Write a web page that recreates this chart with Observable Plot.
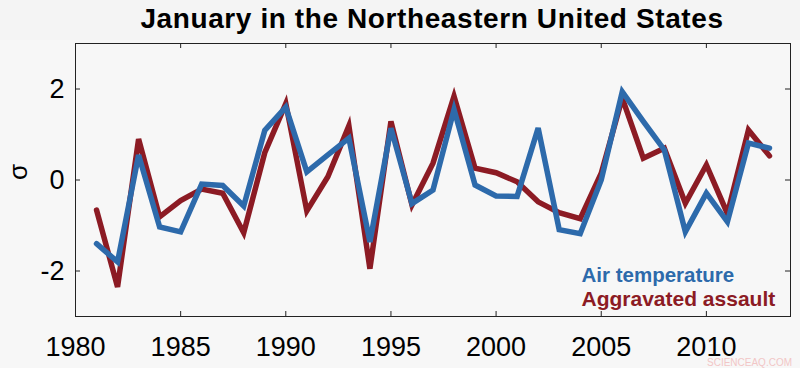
<!DOCTYPE html>
<html>
<head>
<meta charset="utf-8">
<script src="https://cdn.jsdelivr.net/npm/d3@7"></script>
<script src="https://cdn.jsdelivr.net/npm/@observablehq/plot@0.6"></script>
<style>
  html, body { margin: 0; padding: 0; background: #f4f4f4; }
  #wrap { position: relative; width: 800px; height: 368px; overflow: hidden; }
  #title { height: 40px; line-height: 38px; text-align: center; font-family: "Liberation Sans", Arial, sans-serif;
           font-weight: bold; font-size: 28px; color: #000; letter-spacing: 0.6px; padding-left: 64px; white-space: nowrap; }
  #mark { position: absolute; right: 8px; bottom: 0px; font-family: "Liberation Sans", Arial, sans-serif;
          font-size: 10px; color: #f2c6c6; }
</style>
</head>
<body>
<div id="wrap">
  <div id="title">January in the Northeastern United States</div>
  <div id="chart"></div>
  <div id="mark">SCIENCEAQ.COM</div>
</div>
<script>
const years = [1981,1982,1983,1984,1985,1986,1987,1988,1989,1990,1991,1992,1993,1994,1995,1996,1997,1998,1999,2000,2001,2002,2003,2004,2005,2006,2007,2008,2009,2010,2011,2012,2013];
const airTemperature = [-1.40,-1.80,0.55,-1.03,-1.14,-0.09,-0.12,-0.57,1.09,1.60,0.18,0.55,0.92,-1.36,1.14,-0.52,-0.22,1.55,-0.11,-0.35,-0.36,1.14,-1.09,-1.18,0.00,1.94,1.29,0.66,-1.14,-0.29,-0.92,0.81,0.70];
const aggravatedAssault = [-0.66,-2.35,0.90,-0.81,-0.45,-0.20,-0.29,-1.16,0.60,1.68,-0.68,0.07,1.19,-1.95,1.29,-0.55,0.37,1.84,0.26,0.16,-0.04,-0.48,-0.72,-0.85,0.15,1.80,0.48,0.70,-0.51,0.33,-0.74,1.10,0.53];
const seriesNames = ["Air temperature", "Aggravated assault"];
const seriesColors = ["#2d6aab", "#8c1b24"];
const xTicks = [1980,1985,1990,1995,2000,2005,2010];
const yTicks = [-2,0,2];

const rows = (vals, name) => years.map((yr, i) => ({year: yr, value: vals[i], series: name}));
const air = rows(airTemperature, seriesNames[0]);
const assault = rows(aggravatedAssault, seriesNames[1]);

const W = 800, H = 328, mt = 3, mb = 52, ml = 75, mr = 10;
const innerH = H - mt - mb, innerW = W - ml - mr;
const tl = 5;

const font = "'Liberation Sans', Arial, sans-serif";

const chart = Plot.plot({
  width: W, height: H,
  marginTop: mt, marginBottom: mb, marginLeft: ml, marginRight: mr,
  style: {background: "#f7f7f7", fontFamily: font, color: "#000"},
  x: {domain: [1980, 2014]},
  y: {domain: [-3, 3]},
  marks: [
    Plot.frame({stroke: "#222", strokeWidth: 1}),
    Plot.tickX(xTicks.slice(1), {stroke: "#222", insetTop: innerH - tl}),
    Plot.tickX(xTicks.slice(1), {stroke: "#222", insetBottom: innerH - tl}),
    Plot.tickY(yTicks, {stroke: "#222", insetRight: innerW - tl}),
    Plot.tickY(yTicks, {stroke: "#222", insetLeft: innerW - tl}),
    Plot.axisX({ticks: xTicks, tickSize: 0, tickPadding: 20, fontSize: 27, tickFormat: d => String(d), label: null}),
    Plot.axisY({ticks: yTicks, tickSize: 0, tickPadding: 11, fontSize: 27, tickFormat: d => String(d), label: null}),
    Plot.line(assault, {x: "year", y: "value", stroke: seriesColors[1], strokeWidth: 5.5, strokeLinejoin: "miter", strokeMiterlimit: 4}),
    Plot.line(air, {x: "year", y: "value", stroke: seriesColors[0], strokeWidth: 5.5, strokeLinejoin: "miter", strokeMiterlimit: 4}),
    Plot.text([seriesNames[0]], {frameAnchor: "bottom-right", dx: -209, dy: -35, text: d => d, textAnchor: "start", fill: seriesColors[0], fontSize: 20.5, fontWeight: "bold"}),
    Plot.text([seriesNames[1]], {frameAnchor: "bottom-right", dx: -209, dy: -11, text: d => d, textAnchor: "start", fill: seriesColors[1], fontSize: 21, fontWeight: "bold"}),
    Plot.text(["σ"], {frameAnchor: "left", dx: -57, text: d => d, rotate: -90, fontSize: 26, fill: "#000"})
  ]
});
document.getElementById("chart").appendChild(chart);
</script>
</body>
</html>
